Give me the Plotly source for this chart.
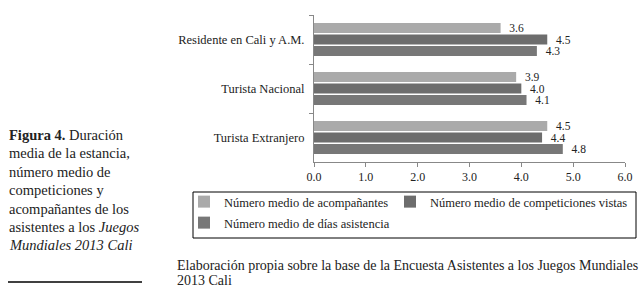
import plotly.graph_objects as go

categories = ["Residente en Cali y A.M.", "Turista Nacional", "Turista Extranjero"]
series_names = ["Número medio de acompañantes",
                "Número medio de competiciones vistas",
                "Número medio de días asistencia"]
acompanantes = [3.6, 3.9, 4.5]
competiciones = [4.5, 4.0, 4.4]
dias = [4.3, 4.1, 4.8]
x_ticks = [0, 1, 2, 3, 4, 5, 6]

colors = ["#aaaaaa", "#6d6d6d", "#777777"]
legend_ids = ["legend", "legend2", "legend3"]
SERIF = "Liberation Serif, Times New Roman, serif"
TXT = "#222222"

L, R, T, B = 314, 16, 15, 125
W, H = 641, 287
PW, PH = W - L - R, H - T - B


def px_x(px):
    return (px - L) / PW


def px_y(py):
    return (H - B - py) / PH


fig = go.Figure()
for name, vals, col, lg in zip(series_names, [acompanantes, competiciones, dias], colors, legend_ids):
    fig.add_trace(go.Bar(
        y=categories, x=vals, name=name, orientation="h", legend=lg,
        marker=dict(color=col, line=dict(width=0)),
        text=vals, texttemplate="\u00a0\u00a0%{x:.1f}", textposition="outside",
        textfont=dict(family=SERIF, size=11.5, color=TXT),
        outsidetextfont=dict(family=SERIF, size=11.5, color=TXT),
        constraintext="none",
        cliponaxis=False,
    ))

legend_common = dict(
    orientation="h", xref="paper", yref="paper",
    xanchor="left", yanchor="top",
    bgcolor="rgba(0,0,0,0)", borderwidth=0,
    font=dict(family=SERIF, size=12.5, color=TXT),
    traceorder="normal", itemwidth=30,
)

fig.update_layout(
    width=W, height=H,
    margin=dict(l=L, r=R, t=T, b=B, autoexpand=False),
    paper_bgcolor="white", plot_bgcolor="white",
    barmode="group", bargap=0.3, bargroupgap=0.12,
    font=dict(family=SERIF, size=12, color=TXT),
    showlegend=True,
    legend=dict(x=px_x(184), y=px_y(187), **legend_common),
    legend2=dict(x=px_x(390), y=px_y(187), **legend_common),
    legend3=dict(x=px_x(184), y=px_y(208), **legend_common),
    xaxis=dict(
        range=[0, 6], tickvals=x_ticks, tickformat=".1f",
        showgrid=False, zeroline=False, showline=True, linecolor="#888888", linewidth=1,
        ticks="outside", ticklen=4, tickcolor="#888888",
        tickfont=dict(family=SERIF, size=12, color=TXT),
    ),
    yaxis=dict(
        type="category", categoryorder="array", categoryarray=categories,
        autorange="reversed", tickson="boundaries",
        showgrid=False, zeroline=False, showline=True, linecolor="#888888", linewidth=1,
        ticks="outside", ticklen=4, tickcolor="#888888",
        tickfont=dict(family=SERIF, size=12.5, color=TXT),
        ticklabelstandoff=6,
    ),
)

# legend frame
fig.add_shape(type="rect", xref="paper", yref="paper",
              x0=px_x(193), x1=px_x(636), y0=px_y(192), y1=px_y(238),
              line=dict(color="#000000", width=1), fillcolor="rgba(0,0,0,0)")

caption_lines = ["<b>Figura 4.</b> Duración", "media de la estancia,", "número medio de",
                 "competiciones y", "acompañantes de los", "asistentes a los <i>Juegos</i>",
                 "<i>Mundiales 2013 Cali</i>"]
for i, line in enumerate(caption_lines):
    fig.add_annotation(
        text=line, xref="paper", yref="paper", showarrow=False,
        x=px_x(7), y=px_y(135 + 18.4 * i), xanchor="left", yanchor="middle", align="left",
        font=dict(family=SERIF, size=14.5, color=TXT),
    )
fig.add_shape(type="line", xref="paper", yref="paper",
              x0=px_x(8), x1=px_x(142), y0=px_y(282), y1=px_y(282),
              line=dict(color="#000000", width=1.5))

source_lines = ["Elaboración propia sobre la base de la Encuesta Asistentes a los Juegos Mundiales",
                "2013 Cali"]
for i, line in enumerate(source_lines):
    fig.add_annotation(
        text=line, xref="paper", yref="paper", showarrow=False,
        x=px_x(175), y=px_y(265.5 + 15 * i), xanchor="left", yanchor="middle", align="left",
        font=dict(family=SERIF, size=14, color=TXT),
    )

fig.write_html("out.html", config={"displayModeBar": False},
               post_script="document.body.style.margin='0';")
